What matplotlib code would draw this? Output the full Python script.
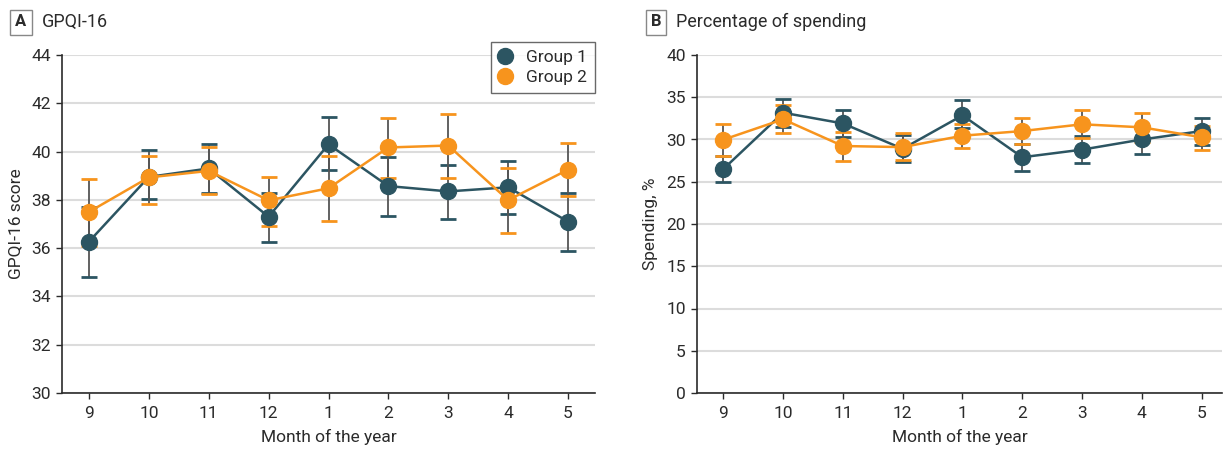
import matplotlib
matplotlib.use("Agg")
import matplotlib.pyplot as plt
import numpy as np

plt.rcParams['font.family'] = ['Roboto', 'DejaVu Sans']

months = ['9', '10', '11', '12', '1', '2', '3', '4', '5']

# Panel A: GPQI-16
a_g1 = [36.27, 38.95, 39.3, 37.3, 40.3, 38.57, 38.35, 38.52, 37.1]
a_g1_lo = [34.8, 38.05, 38.3, 36.25, 39.22, 37.33, 37.22, 37.43, 35.9]
a_g1_hi = [37.72, 40.05, 40.3, 38.3, 41.43, 39.77, 39.45, 39.62, 38.27]
a_g2 = [37.5, 38.93, 39.2, 37.98, 38.48, 40.17, 40.25, 37.99, 39.25]
a_g2_lo = [36.09, 37.83, 38.24, 36.91, 37.12, 38.9, 38.9, 36.63, 38.16]
a_g2_hi = [38.88, 39.82, 40.19, 38.95, 39.82, 41.4, 41.57, 39.3, 40.34]

# Panel B: Percentage of spending
b_g1 = [26.5, 33.17, 31.9, 28.9, 32.86, 27.9, 28.8, 30.0, 31.0]
b_g1_lo = [24.97, 31.5, 30.3, 27.3, 31.36, 26.27, 27.22, 28.28, 29.4]
b_g1_hi = [28.08, 34.8, 33.53, 30.57, 34.67, 29.47, 30.41, 31.4, 32.5]
b_g2 = [29.98, 32.39, 29.23, 29.1, 30.45, 31.0, 31.8, 31.44, 30.26]
b_g2_lo = [28.08, 30.77, 27.42, 27.54, 29.03, 29.47, 30.18, 29.67, 28.8]
b_g2_hi = [31.83, 34.05, 30.93, 30.73, 31.87, 32.54, 33.45, 33.14, 31.6]

C1 = '#2C5562'
C2 = '#F7941D'
GRID = '#DCDCDC'
TXT = '#2b2b2b'

fig = plt.figure(figsize=(12.23, 4.49), dpi=100)
axA = fig.add_axes([62/1223, 1-393/449, (595-62)/1223, (393-55)/449])
axB = fig.add_axes([697/1223, 1-393/449, (1222-697)/1223, (393-55)/449])

def draw(ax, series, ylim, yticks, ylabel, xlim):
    x = np.arange(len(months))
    for vals, lo, hi, col, lab, z in series:
        vals = np.array(vals); lo = np.array(lo); hi = np.array(hi)
        err = np.vstack([vals - lo, hi - vals])
        ax.errorbar(x, vals, yerr=err, fmt='none', ecolor='#555555', elinewidth=1.3,
                    capsize=0, zorder=z)
        ax.plot(x, lo, ls='none', marker='_', ms=11, mew=2, color=col, zorder=z)
        ax.plot(x, hi, ls='none', marker='_', ms=11, mew=2, color=col, zorder=z)
    for vals, lo, hi, col, lab, z in series:
        ax.plot(x, vals, '-o', color=col, lw=1.8, ms=11.5, label=lab, zorder=z + 2)
    ax.set_xlim(*xlim)
    ax.set_ylim(*ylim)
    ax.set_xticks(x)
    ax.set_xticklabels(months)
    ax.set_yticks(yticks)
    ax.yaxis.grid(True, color=GRID, lw=1.5)
    ax.set_axisbelow(True)
    for s in ['top', 'right']:
        ax.spines[s].set_visible(False)
    for s in ['left', 'bottom']:
        ax.spines[s].set_color(TXT)
        ax.spines[s].set_linewidth(1.2)
    ax.tick_params(colors=TXT, labelsize=12.5, length=4, width=1, direction='out', pad=4)
    ax.tick_params(axis='x', pad=5)
    ax.set_xlabel('Month of the year', fontsize=12.5, color=TXT, labelpad=6)
    ax.set_ylabel(ylabel, fontsize=12.5, color=TXT, labelpad=6)

draw(axA, [(a_g1, a_g1_lo, a_g1_hi, C1, 'Group 1', 3),
           (a_g2, a_g2_lo, a_g2_hi, C2, 'Group 2', 4)],
     (30, 44), np.arange(30, 45, 2), 'GPQI-16 score', (-0.45, 8.45))
draw(axB, [(b_g1, b_g1_lo, b_g1_hi, C1, 'Group 1', 3),
           (b_g2, b_g2_lo, b_g2_hi, C2, 'Group 2', 4)],
     (0, 40), np.arange(0, 41, 5), 'Spending, %', (-0.44, 8.34))

leg = axA.legend(loc='upper right', bbox_to_anchor=(1.0, 1.038), borderaxespad=0,
                 fontsize=12.5, frameon=True,
                 fancybox=False, edgecolor='#444444', handlelength=0.8, handletextpad=0.8,
                 borderpad=0.45, labelspacing=0.3, numpoints=1)
leg.get_frame().set_linewidth(1.0)
for t in leg.get_texts():
    t.set_color(TXT)
for h in leg.legend_handles:
    h.set_linestyle('none')

fig.text(21/1223, 1-22/449, 'A', fontsize=12, fontweight='bold', color=TXT, ha='center', va='center',
         bbox=dict(boxstyle='square,pad=0.3', fc='white', ec='#888888', lw=1))
fig.text(42/1223, 1-22/449, 'GPQI-16', fontsize=13, color=TXT, ha='left', va='center')
fig.text(656/1223, 1-22/449, 'B', fontsize=12, fontweight='bold', color=TXT, ha='center', va='center',
         bbox=dict(boxstyle='square,pad=0.3', fc='white', ec='#888888', lw=1))
fig.text(676/1223, 1-22/449, 'Percentage of spending', fontsize=13, color=TXT, ha='left', va='center')

fig.savefig('out.png', dpi=100)
